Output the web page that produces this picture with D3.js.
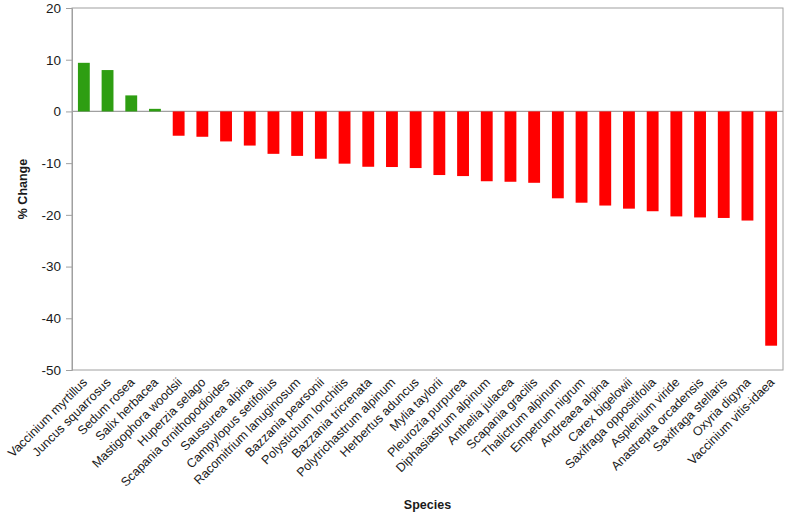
<!DOCTYPE html>
<html><head><meta charset="utf-8">
<script src="https://cdn.jsdelivr.net/npm/d3@7"></script>
<style>body{margin:0;background:#fff}</style>
</head><body>
<script>
const species = ["Vaccinium myrtillus","Juncus squarrosus","Sedum rosea","Salix herbacea","Mastigophora woodsii","Huperzia selago","Scapania ornithopodioides","Saussurea alpina","Campylopus setifolius","Racomitrium lanuginosum","Bazzania pearsonii","Polystichum lonchitis","Bazzania tricrenata","Polytrichastrum alpinum","Herbertus aduncus","Mylia taylorii","Pleurozia purpurea","Diphasiastrum alpinum","Anthelia julacea","Scapania gracilis","Thalictrum alpinum","Empetrum nigrum","Andreaea alpina","Carex bigelowii","Saxifraga oppositifolia","Asplenium viride","Anastrepta orcadensis","Saxifraga stellaris","Oxyria digyna","Vaccinium vitis-idaea"];
const pctChange = [9.4,8.0,3.1,0.5,-4.7,-4.9,-5.8,-6.6,-8.2,-8.6,-9.15,-10.1,-10.7,-10.75,-10.95,-12.3,-12.5,-13.5,-13.6,-13.8,-16.8,-17.65,-18.2,-18.8,-19.3,-20.3,-20.5,-20.6,-21.1,-45.3];
const yTicks = [20,10,0,-10,-20,-30,-40,-50];
const yTitle = "% Change";
const xTitle = "Species";

const W = 787, H = 514;
const m = {left:72, right:4, top:8, bottom:144};
const svg = d3.select("body").append("svg").attr("width",W).attr("height",H)
  .style("font-family","'Liberation Sans', Arial, sans-serif");

const x = d3.scaleBand().domain(species).range([m.left, W-m.right]).paddingInner(0.5).paddingOuter(0.25);
const y = d3.scaleLinear().domain([-50,20]).range([H-m.bottom, m.top]);
const axisColor = "#a0a0a0";

// plot frame
svg.append("rect").attr("x",m.left).attr("y",m.top)
  .attr("width",W-m.right-m.left).attr("height",y(-50)-m.top)
  .attr("fill","none").attr("stroke",axisColor).attr("stroke-width",1);

// zero line
svg.append("line").attr("x1",m.left).attr("x2",W-m.right).attr("y1",y(0)).attr("y2",y(0))
  .attr("stroke",axisColor).attr("stroke-width",1.2);

// bars
svg.append("g").selectAll("rect").data(species).join("rect")
  .attr("x",d=>x(d)).attr("width",x.bandwidth())
  .attr("y",(d,i)=>y(Math.max(0,pctChange[i])))
  .attr("height",(d,i)=>Math.abs(y(pctChange[i])-y(0)))
  .attr("fill",(d,i)=>pctChange[i]>=0?"#2e9e12":"#ff0000");

// y axis
const ya = svg.append("g").attr("transform",`translate(${m.left},0)`)
  .call(d3.axisLeft(y).tickValues(yTicks).tickSize(6).tickPadding(5).tickFormat(d=>String(d)));
ya.select(".domain").attr("stroke",axisColor);
ya.selectAll(".tick line").attr("stroke",axisColor);
ya.selectAll(".tick text").attr("fill","#1a1a1a").style("font-size","13.5px").style("font-family","'Liberation Sans', Arial, sans-serif");

// x labels
const xa = svg.append("g").attr("transform",`translate(0,${y(-50)})`)
  .call(d3.axisBottom(x).tickSize(0).tickPadding(0));
xa.select(".domain").remove();
xa.selectAll(".tick text")
  .attr("fill","#1a1a1a").style("font-size","12.5px").style("font-family","'Liberation Sans', Arial, sans-serif")
  .attr("text-anchor","end")
  .attr("transform","translate(1,10) rotate(-45)")
  .attr("dy","0.35em").attr("y",0).attr("x",0);

// titles
svg.append("text").attr("transform",`translate(27,${(m.top+y(-50))/2}) rotate(-90)`)
  .attr("text-anchor","middle").style("font-weight","bold").style("font-size","12.5px").attr("fill","#1a1a1a").text(yTitle);
svg.append("text").attr("x",(m.left+W-m.right)/2).attr("y",509)
  .attr("text-anchor","middle").style("font-weight","bold").style("font-size","12.5px").attr("fill","#1a1a1a").text(xTitle);
</script>
</body></html>
